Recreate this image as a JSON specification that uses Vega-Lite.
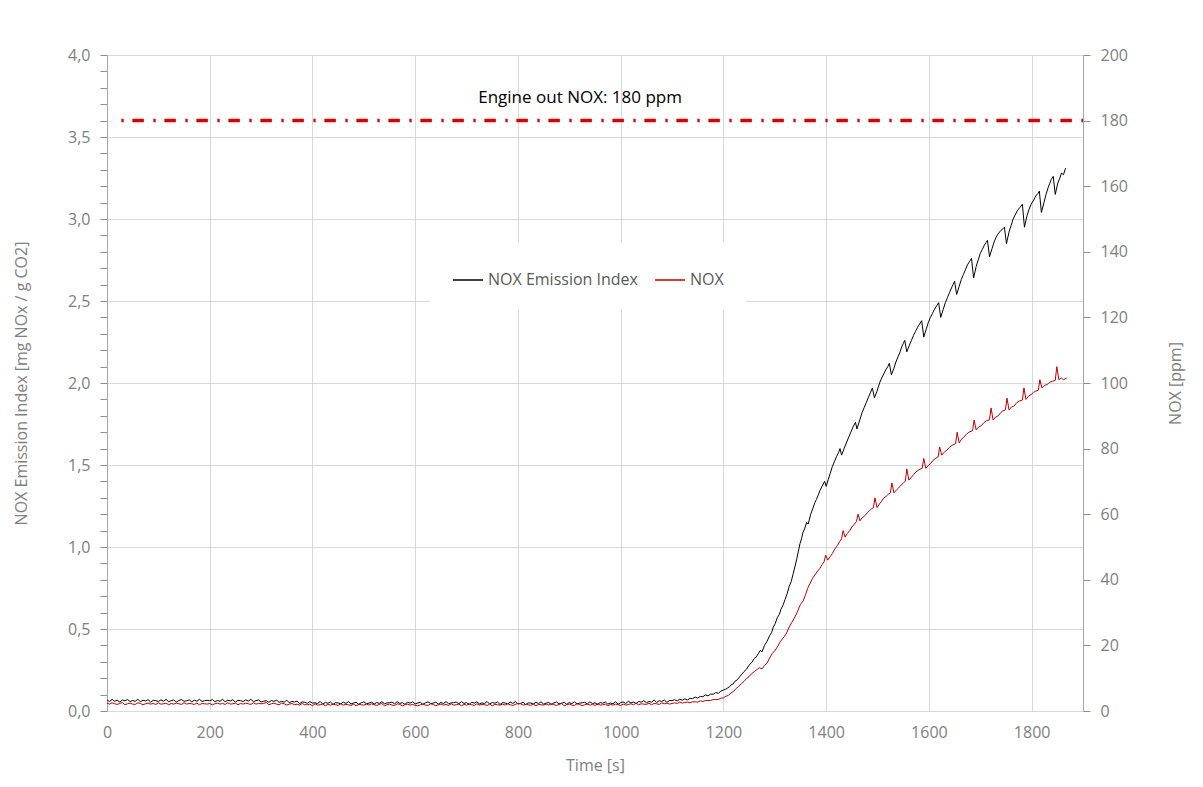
{
"$schema": "https://vega.github.io/schema/vega-lite/v6.json",
"width": 976, "height": 656,
"autosize": {"type": "none"},
"padding": {"left": 107, "top": 55, "right": 120, "bottom": 76},
"background": "white",
"config": {
 "font": "Open Sans",
 "view": {"stroke": null},
 "axis": {"labelFont": "Open Sans", "labelFontSize": 16, "labelColor": "#808080", "titleFont": "Open Sans", "titleFontSize": 16, "titleFontWeight": "normal", "titleColor": "#808080", "domainColor": "#a6a6a6", "tickColor": "#8c8c8c", "tickWidth": 1, "gridColor": "#d9d9d9", "labelOverlap": false, "labelFlush": false, "labelBound": false}
},
"datasets": {
 "ei": [
{"t":0,"ei":0.068},{"t":5,"ei":0.058},{"t":10,"ei":0.071},{"t":15,"ei":0.060},{"t":20,"ei":0.065},{"t":25,"ei":0.055},{"t":30,"ei":0.067},{"t":35,"ei":0.062},{"t":40,"ei":0.070},{"t":45,"ei":0.057},{"t":50,"ei":0.064},{"t":55,"ei":0.059},{"t":60,"ei":0.072},{"t":65,"ei":0.056},{"t":70,"ei":0.066},{"t":75,"ei":0.061},{"t":80,"ei":0.069},{"t":85,"ei":0.054},{"t":90,"ei":0.065},{"t":95,"ei":0.063},
{"t":100,"ei":0.058},{"t":105,"ei":0.068},{"t":110,"ei":0.060},{"t":115,"ei":0.071},{"t":120,"ei":0.057},{"t":125,"ei":0.063},{"t":130,"ei":0.067},{"t":135,"ei":0.055},{"t":140,"ei":0.064},{"t":145,"ei":0.070},{"t":150,"ei":0.059},{"t":155,"ei":0.062},{"t":160,"ei":0.068},{"t":165,"ei":0.056},{"t":170,"ei":0.066},{"t":175,"ei":0.060},{"t":180,"ei":0.071},{"t":185,"ei":0.058},{"t":190,"ei":0.063},{"t":195,"ei":0.065},
{"t":200,"ei":0.062},{"t":205,"ei":0.070},{"t":210,"ei":0.057},{"t":215,"ei":0.064},{"t":220,"ei":0.059},{"t":225,"ei":0.072},{"t":230,"ei":0.056},{"t":235,"ei":0.066},{"t":240,"ei":0.061},{"t":245,"ei":0.069},{"t":250,"ei":0.054},{"t":255,"ei":0.065},{"t":260,"ei":0.063},{"t":265,"ei":0.058},{"t":270,"ei":0.068},{"t":275,"ei":0.060},{"t":280,"ei":0.071},{"t":285,"ei":0.057},{"t":290,"ei":0.063},{"t":295,"ei":0.067},
{"t":300,"ei":0.055},{"t":305,"ei":0.059},{"t":310,"ei":0.063},{"t":315,"ei":0.053},{"t":320,"ei":0.064},{"t":325,"ei":0.059},{"t":330,"ei":0.066},{"t":335,"ei":0.053},{"t":340,"ei":0.059},{"t":345,"ei":0.054},{"t":350,"ei":0.066},{"t":355,"ei":0.050},{"t":360,"ei":0.059},{"t":365,"ei":0.054},{"t":370,"ei":0.061},{"t":375,"ei":0.045},{"t":380,"ei":0.056},{"t":385,"ei":0.053},{"t":390,"ei":0.047},{"t":395,"ei":0.057},
{"t":400,"ei":0.048},{"t":405,"ei":0.050},{"t":410,"ei":0.045},{"t":415,"ei":0.058},{"t":420,"ei":0.042},{"t":425,"ei":0.052},{"t":430,"ei":0.047},{"t":435,"ei":0.055},{"t":440,"ei":0.040},{"t":445,"ei":0.051},{"t":450,"ei":0.049},{"t":455,"ei":0.044},{"t":460,"ei":0.054},{"t":465,"ei":0.046},{"t":470,"ei":0.057},{"t":475,"ei":0.043},{"t":480,"ei":0.049},{"t":485,"ei":0.053},{"t":490,"ei":0.041},{"t":495,"ei":0.050},
{"t":500,"ei":0.056},{"t":505,"ei":0.045},{"t":510,"ei":0.048},{"t":515,"ei":0.054},{"t":520,"ei":0.042},{"t":525,"ei":0.052},{"t":530,"ei":0.046},{"t":535,"ei":0.057},{"t":540,"ei":0.044},{"t":545,"ei":0.049},{"t":550,"ei":0.051},{"t":555,"ei":0.054},{"t":560,"ei":0.044},{"t":565,"ei":0.057},{"t":570,"ei":0.046},{"t":575,"ei":0.051},{"t":580,"ei":0.041},{"t":585,"ei":0.053},{"t":590,"ei":0.048},{"t":595,"ei":0.056},
{"t":600,"ei":0.043},{"t":605,"ei":0.049},{"t":610,"ei":0.053},{"t":615,"ei":0.041},{"t":620,"ei":0.050},{"t":625,"ei":0.056},{"t":630,"ei":0.045},{"t":635,"ei":0.048},{"t":640,"ei":0.054},{"t":645,"ei":0.042},{"t":650,"ei":0.052},{"t":655,"ei":0.046},{"t":660,"ei":0.057},{"t":665,"ei":0.044},{"t":670,"ei":0.049},{"t":675,"ei":0.051},{"t":680,"ei":0.054},{"t":685,"ei":0.044},{"t":690,"ei":0.057},{"t":695,"ei":0.046},
{"t":700,"ei":0.051},{"t":705,"ei":0.041},{"t":710,"ei":0.053},{"t":715,"ei":0.048},{"t":720,"ei":0.056},{"t":725,"ei":0.043},{"t":730,"ei":0.050},{"t":735,"ei":0.045},{"t":740,"ei":0.058},{"t":745,"ei":0.042},{"t":750,"ei":0.052},{"t":755,"ei":0.047},{"t":760,"ei":0.055},{"t":765,"ei":0.040},{"t":770,"ei":0.051},{"t":775,"ei":0.049},{"t":780,"ei":0.044},{"t":785,"ei":0.054},{"t":790,"ei":0.046},{"t":795,"ei":0.057},
{"t":800,"ei":0.043},{"t":805,"ei":0.046},{"t":810,"ei":0.054},{"t":815,"ei":0.039},{"t":820,"ei":0.050},{"t":825,"ei":0.048},{"t":830,"ei":0.043},{"t":835,"ei":0.053},{"t":840,"ei":0.045},{"t":845,"ei":0.056},{"t":850,"ei":0.042},{"t":855,"ei":0.048},{"t":860,"ei":0.052},{"t":865,"ei":0.040},{"t":870,"ei":0.049},{"t":875,"ei":0.055},{"t":880,"ei":0.044},{"t":885,"ei":0.047},{"t":890,"ei":0.053},{"t":895,"ei":0.041},
{"t":900,"ei":0.051},{"t":905,"ei":0.045},{"t":910,"ei":0.056},{"t":915,"ei":0.043},{"t":920,"ei":0.048},{"t":925,"ei":0.050},{"t":930,"ei":0.053},{"t":935,"ei":0.043},{"t":940,"ei":0.056},{"t":945,"ei":0.045},{"t":950,"ei":0.050},{"t":955,"ei":0.040},{"t":960,"ei":0.052},{"t":965,"ei":0.047},{"t":970,"ei":0.055},{"t":975,"ei":0.042},{"t":980,"ei":0.049},{"t":985,"ei":0.044},{"t":990,"ei":0.057},{"t":995,"ei":0.041},
{"t":1000,"ei":0.051},{"t":1005,"ei":0.055},{"t":1010,"ei":0.046},{"t":1015,"ei":0.059},{"t":1020,"ei":0.049},{"t":1025,"ei":0.055},{"t":1030,"ei":0.046},{"t":1035,"ei":0.058},{"t":1040,"ei":0.054},{"t":1045,"ei":0.063},{"t":1050,"ei":0.050},{"t":1055,"ei":0.058},{"t":1060,"ei":0.054},{"t":1065,"ei":0.067},{"t":1070,"ei":0.052},{"t":1075,"ei":0.063},{"t":1080,"ei":0.058},{"t":1085,"ei":0.067},{"t":1090,"ei":0.053},{"t":1095,"ei":0.064},
{"t":1100,"ei":0.063},{"t":1105,"ei":0.069},{"t":1110,"ei":0.061},{"t":1115,"ei":0.072},{"t":1120,"ei":0.066},{"t":1125,"ei":0.074},{"t":1130,"ei":0.067},{"t":1135,"ei":0.077},{"t":1140,"ei":0.076},{"t":1145,"ei":0.085},{"t":1150,"ei":0.079},{"t":1155,"ei":0.089},{"t":1160,"ei":0.087},{"t":1165,"ei":0.098},{"t":1170,"ei":0.092},{"t":1175,"ei":0.103},{"t":1180,"ei":0.102},{"t":1185,"ei":0.112},{"t":1190,"ei":0.108},{"t":1195,"ei":0.121},
{"t":1200,"ei":0.128},{"t":1204,"ei":0.132},{"t":1208,"ei":0.14},{"t":1212,"ei":0.148},{"t":1215,"ei":0.16},{"t":1219,"ei":0.165},{"t":1222,"ei":0.18},{"t":1227,"ei":0.19},{"t":1232,"ei":0.21},{"t":1236,"ei":0.225},{"t":1240,"ei":0.24},{"t":1245,"ei":0.255},{"t":1250,"ei":0.28},{"t":1255,"ei":0.295},{"t":1260,"ei":0.32},{"t":1264,"ei":0.33},{"t":1268,"ei":0.35},{"t":1272,"ei":0.37},{"t":1275,"ei":0.36},{"t":1280,"ei":0.40},
{"t":1285,"ei":0.425},{"t":1290,"ei":0.46},{"t":1294,"ei":0.48},{"t":1297,"ei":0.51},{"t":1301,"ei":0.535},{"t":1305,"ei":0.57},{"t":1309,"ei":0.59},{"t":1312,"ei":0.62},{"t":1316,"ei":0.645},{"t":1320,"ei":0.68},{"t":1324,"ei":0.715},{"t":1328,"ei":0.76},{"t":1332,"ei":0.79},{"t":1336,"ei":0.84},{"t":1340,"ei":0.89},{"t":1343,"ei":0.93},{"t":1346,"ei":0.975},{"t":1349,"ei":1.02},{"t":1352,"ei":1.05},{"t":1355,"ei":1.09},
{"t":1358,"ei":1.11},{"t":1362,"ei":1.15},{"t":1365,"ei":1.14},{"t":1370,"ei":1.20},{"t":1374,"ei":1.235},{"t":1378,"ei":1.27},{"t":1381,"ei":1.29},{"t":1385,"ei":1.32},{"t":1388,"ei":1.345},{"t":1392,"ei":1.37},{"t":1397,"ei":1.40},{"t":1400,"ei":1.37},{"t":1404,"ei":1.41},{"t":1408,"ei":1.45},{"t":1412,"ei":1.49},{"t":1416,"ei":1.52},{"t":1420,"ei":1.55},{"t":1424,"ei":1.575},{"t":1427,"ei":1.60},{"t":1430,"ei":1.56},
{"t":1435,"ei":1.60},{"t":1440,"ei":1.64},{"t":1444,"ei":1.67},{"t":1448,"ei":1.70},{"t":1452,"ei":1.73},{"t":1457,"ei":1.76},{"t":1460,"ei":1.72},{"t":1466,"ei":1.78},{"t":1470,"ei":1.82},{"t":1474,"ei":1.85},{"t":1478,"ei":1.88},{"t":1482,"ei":1.91},{"t":1486,"ei":1.94},{"t":1490,"ei":1.97},{"t":1494,"ei":1.91},{"t":1499,"ei":1.95},{"t":1504,"ei":2.0},{"t":1508,"ei":2.03},{"t":1512,"ei":2.055},{"t":1516,"ei":2.08},
{"t":1520,"ei":2.10},{"t":1523,"ei":2.12},{"t":1527,"ei":2.05},{"t":1532,"ei":2.09},{"t":1536,"ei":2.13},{"t":1540,"ei":2.16},{"t":1544,"ei":2.19},{"t":1547,"ei":2.22},{"t":1550,"ei":2.24},{"t":1553,"ei":2.26},{"t":1557,"ei":2.19},{"t":1562,"ei":2.23},{"t":1566,"ei":2.26},{"t":1570,"ei":2.29},{"t":1574,"ei":2.315},{"t":1578,"ei":2.34},{"t":1582,"ei":2.36},{"t":1586,"ei":2.38},{"t":1590,"ei":2.28},{"t":1595,"ei":2.33},
{"t":1599,"ei":2.37},{"t":1603,"ei":2.40},{"t":1607,"ei":2.425},{"t":1611,"ei":2.45},{"t":1615,"ei":2.47},{"t":1619,"ei":2.49},{"t":1623,"ei":2.40},{"t":1628,"ei":2.45},{"t":1632,"ei":2.49},{"t":1636,"ei":2.52},{"t":1640,"ei":2.55},{"t":1644,"ei":2.58},{"t":1647,"ei":2.60},{"t":1650,"ei":2.62},{"t":1654,"ei":2.54},{"t":1659,"ei":2.59},{"t":1663,"ei":2.63},{"t":1667,"ei":2.66},{"t":1671,"ei":2.69},{"t":1675,"ei":2.72},
{"t":1679,"ei":2.74},{"t":1683,"ei":2.76},{"t":1687,"ei":2.64},{"t":1692,"ei":2.71},{"t":1696,"ei":2.75},{"t":1700,"ei":2.79},{"t":1704,"ei":2.815},{"t":1708,"ei":2.84},{"t":1711,"ei":2.855},{"t":1714,"ei":2.87},{"t":1718,"ei":2.77},{"t":1723,"ei":2.82},{"t":1727,"ei":2.86},{"t":1731,"ei":2.89},{"t":1735,"ei":2.91},{"t":1740,"ei":2.93},{"t":1744,"ei":2.94},{"t":1747,"ei":2.95},{"t":1751,"ei":2.85},{"t":1756,"ei":2.92},
{"t":1760,"ei":2.96},{"t":1764,"ei":3.00},{"t":1768,"ei":3.025},{"t":1772,"ei":3.05},{"t":1777,"ei":3.07},{"t":1782,"ei":3.09},{"t":1786,"ei":2.95},{"t":1791,"ei":3.02},{"t":1795,"ei":3.06},{"t":1799,"ei":3.09},{"t":1804,"ei":3.115},{"t":1808,"ei":3.14},{"t":1812,"ei":3.155},{"t":1815,"ei":3.17},{"t":1819,"ei":3.04},{"t":1824,"ei":3.10},{"t":1828,"ei":3.15},{"t":1832,"ei":3.19},{"t":1835,"ei":3.215},{"t":1838,"ei":3.24},
{"t":1842,"ei":3.26},{"t":1846,"ei":3.15},{"t":1851,"ei":3.22},{"t":1855,"ei":3.25},{"t":1858,"ei":3.28},{"t":1862,"ei":3.27},{"t":1866,"ei":3.31}
 ],
 "nox": [
{"t":0,"nox":2.4},{"t":5,"nox":2.1},{"t":10,"nox":2.5},{"t":15,"nox":2.2},{"t":20,"nox":2.0},{"t":25,"nox":2.3},{"t":30,"nox":2.6},{"t":35,"nox":1.9},{"t":40,"nox":2.2},{"t":45,"nox":2.4},{"t":50,"nox":2.1},{"t":55,"nox":2.0},{"t":60,"nox":2.5},{"t":65,"nox":2.3},{"t":70,"nox":1.9},{"t":75,"nox":2.2},{"t":80,"nox":2.4},{"t":85,"nox":2.1},{"t":90,"nox":2.3},{"t":95,"nox":2.0},
{"t":100,"nox":2.5},{"t":105,"nox":2.1},{"t":110,"nox":2.2},{"t":115,"nox":2.4},{"t":120,"nox":1.9},{"t":125,"nox":2.3},{"t":130,"nox":2.1},{"t":135,"nox":2.4},{"t":140,"nox":2.2},{"t":145,"nox":2.0},{"t":150,"nox":2.5},{"t":155,"nox":2.1},{"t":160,"nox":2.3},{"t":165,"nox":2.2},{"t":170,"nox":2.0},{"t":175,"nox":2.4},{"t":180,"nox":1.9},{"t":185,"nox":2.3},{"t":190,"nox":2.2},{"t":195,"nox":2.1},
{"t":200,"nox":2.3},{"t":205,"nox":1.9},{"t":210,"nox":2.2},{"t":215,"nox":2.4},{"t":220,"nox":2.1},{"t":225,"nox":2.3},{"t":230,"nox":2.0},{"t":235,"nox":2.5},{"t":240,"nox":2.1},{"t":245,"nox":2.2},{"t":250,"nox":2.4},{"t":255,"nox":1.9},{"t":260,"nox":2.3},{"t":265,"nox":2.1},{"t":270,"nox":2.4},{"t":275,"nox":2.2},{"t":280,"nox":2.0},{"t":285,"nox":2.5},{"t":290,"nox":2.1},{"t":295,"nox":2.3},
{"t":300,"nox":2.2},{"t":305,"nox":2.3},{"t":310,"nox":2.6},{"t":315,"nox":1.9},{"t":320,"nox":2.2},{"t":325,"nox":2.4},{"t":330,"nox":2.1},{"t":335,"nox":1.9},{"t":340,"nox":2.4},{"t":345,"nox":2.2},{"t":350,"nox":1.8},{"t":355,"nox":2.1},{"t":360,"nox":2.3},{"t":365,"nox":1.9},{"t":370,"nox":2.1},{"t":375,"nox":1.8},{"t":380,"nox":2.3},{"t":385,"nox":1.9},{"t":390,"nox":1.9},{"t":395,"nox":2.1},
{"t":400,"nox":1.6},{"t":405,"nox":2.2},{"t":410,"nox":1.8},{"t":415,"nox":1.9},{"t":420,"nox":2.1},{"t":425,"nox":1.6},{"t":430,"nox":2.0},{"t":435,"nox":1.8},{"t":440,"nox":2.1},{"t":445,"nox":1.9},{"t":450,"nox":1.7},{"t":455,"nox":2.2},{"t":460,"nox":1.8},{"t":465,"nox":2.0},{"t":470,"nox":1.9},{"t":475,"nox":1.7},{"t":480,"nox":2.1},{"t":485,"nox":1.6},{"t":490,"nox":2.0},{"t":495,"nox":1.9},
{"t":500,"nox":1.8},{"t":505,"nox":2.1},{"t":510,"nox":1.8},{"t":515,"nox":2.2},{"t":520,"nox":1.9},{"t":525,"nox":1.7},{"t":530,"nox":2.0},{"t":535,"nox":2.3},{"t":540,"nox":1.6},{"t":545,"nox":1.9},{"t":550,"nox":2.1},{"t":555,"nox":1.8},{"t":560,"nox":1.7},{"t":565,"nox":2.2},{"t":570,"nox":2.0},{"t":575,"nox":1.6},{"t":580,"nox":1.9},{"t":585,"nox":2.1},{"t":590,"nox":1.8},{"t":595,"nox":2.0},
{"t":600,"nox":1.7},{"t":605,"nox":1.6},{"t":610,"nox":1.9},{"t":615,"nox":2.1},{"t":620,"nox":1.8},{"t":625,"nox":1.7},{"t":630,"nox":2.2},{"t":635,"nox":2.0},{"t":640,"nox":1.6},{"t":645,"nox":1.9},{"t":650,"nox":2.1},{"t":655,"nox":1.8},{"t":660,"nox":2.0},{"t":665,"nox":1.7},{"t":670,"nox":2.2},{"t":675,"nox":1.8},{"t":680,"nox":1.9},{"t":685,"nox":2.1},{"t":690,"nox":1.6},{"t":695,"nox":2.0},
{"t":700,"nox":1.8},{"t":705,"nox":2.1},{"t":710,"nox":1.9},{"t":715,"nox":1.7},{"t":720,"nox":2.2},{"t":725,"nox":1.8},{"t":730,"nox":2.0},{"t":735,"nox":1.9},{"t":740,"nox":1.7},{"t":745,"nox":2.1},{"t":750,"nox":1.6},{"t":755,"nox":2.0},{"t":760,"nox":1.9},{"t":765,"nox":1.8},{"t":770,"nox":2.1},{"t":775,"nox":1.8},{"t":780,"nox":2.2},{"t":785,"nox":1.9},{"t":790,"nox":1.7},{"t":795,"nox":2.0},
{"t":800,"nox":2.3},{"t":805,"nox":2.2},{"t":810,"nox":1.8},{"t":815,"nox":2.0},{"t":820,"nox":1.9},{"t":825,"nox":1.7},{"t":830,"nox":2.1},{"t":835,"nox":1.6},{"t":840,"nox":2.0},{"t":845,"nox":1.9},{"t":850,"nox":1.8},{"t":855,"nox":2.1},{"t":860,"nox":1.8},{"t":865,"nox":2.2},{"t":870,"nox":1.9},{"t":875,"nox":1.7},{"t":880,"nox":2.0},{"t":885,"nox":2.3},{"t":890,"nox":1.6},{"t":895,"nox":1.9},
{"t":900,"nox":2.1},{"t":905,"nox":1.8},{"t":910,"nox":1.7},{"t":915,"nox":2.2},{"t":920,"nox":2.0},{"t":925,"nox":1.6},{"t":930,"nox":1.9},{"t":935,"nox":2.1},{"t":940,"nox":1.8},{"t":945,"nox":2.0},{"t":950,"nox":1.7},{"t":955,"nox":2.2},{"t":960,"nox":1.8},{"t":965,"nox":1.9},{"t":970,"nox":2.1},{"t":975,"nox":1.6},{"t":980,"nox":2.0},{"t":985,"nox":1.8},{"t":990,"nox":2.1},{"t":995,"nox":1.9},
{"t":1000,"nox":1.7},{"t":1005,"nox":2.1},{"t":1010,"nox":1.8},{"t":1015,"nox":2.0},{"t":1020,"nox":2.2},{"t":1025,"nox":1.9},{"t":1030,"nox":2.4},{"t":1035,"nox":1.9},{"t":1040,"nox":2.2},{"t":1045,"nox":2.1},{"t":1050,"nox":2.0},{"t":1055,"nox":2.4},{"t":1060,"nox":1.9},{"t":1065,"nox":2.3},{"t":1070,"nox":2.2},{"t":1075,"nox":2.0},{"t":1080,"nox":2.5},{"t":1085,"nox":2.2},{"t":1090,"nox":2.4},{"t":1095,"nox":2.1},
{"t":1100,"nox":2.3},{"t":1105,"nox":2.5},{"t":1110,"nox":2.3},{"t":1115,"nox":2.7},{"t":1120,"nox":2.4},{"t":1125,"nox":2.6},{"t":1130,"nox":2.7},{"t":1135,"nox":2.5},{"t":1140,"nox":2.8},{"t":1145,"nox":2.8},{"t":1150,"nox":2.7},{"t":1155,"nox":3.1},{"t":1160,"nox":2.9},{"t":1165,"nox":3.2},{"t":1170,"nox":3.2},{"t":1175,"nox":3.2},{"t":1180,"nox":3.5},{"t":1185,"nox":3.5},{"t":1190,"nox":3.5},{"t":1195,"nox":3.9},
{"t":1200,"nox":4.0},{"t":1205,"nox":4.5},{"t":1210,"nox":4.8},{"t":1215,"nox":5.5},{"t":1220,"nox":6.0},{"t":1225,"nox":6.9},{"t":1230,"nox":7.5},{"t":1235,"nox":8.4},{"t":1240,"nox":9.0},{"t":1245,"nox":9.9},{"t":1250,"nox":10.5},{"t":1255,"nox":11.4},{"t":1260,"nox":12.0},{"t":1265,"nox":12.6},{"t":1270,"nox":13.2},{"t":1275,"nox":12.8},{"t":1280,"nox":13.9},{"t":1285,"nox":14.6},{"t":1290,"nox":16.2},{"t":1295,"nox":17.5},
{"t":1300,"nox":18.4},{"t":1305,"nox":19.5},{"t":1310,"nox":21.0},{"t":1315,"nox":22.0},{"t":1319,"nox":22.8},{"t":1323,"nox":23.8},{"t":1328,"nox":25.6},{"t":1333,"nox":27.0},{"t":1338,"nox":28.3},{"t":1343,"nox":29.9},{"t":1347,"nox":31.4},{"t":1350,"nox":32.5},{"t":1355,"nox":33.5},{"t":1360,"nox":35.5},{"t":1364,"nox":37.4},{"t":1369,"nox":39.0},{"t":1373,"nox":40.3},{"t":1378,"nox":41.5},{"t":1383,"nox":42.6},{"t":1388,"nox":43.5},
{"t":1392,"nox":44.6},{"t":1396,"nox":45.5},{"t":1399,"nox":47.5},{"t":1403,"nox":46.0},{"t":1408,"nox":47.1},{"t":1412,"nox":48.0},{"t":1417,"nox":49.4},{"t":1422,"nox":50.5},{"t":1426,"nox":51.6},{"t":1430,"nox":52.5},{"t":1433,"nox":55.0},{"t":1437,"nox":53.0},{"t":1441,"nox":54.1},{"t":1446,"nox":55.0},{"t":1450,"nox":56.1},{"t":1455,"nox":57.0},{"t":1459,"nox":57.8},{"t":1462,"nox":60.0},{"t":1466,"nox":58.0},{"t":1470,"nox":58.9},
{"t":1475,"nox":59.5},{"t":1480,"nox":60.4},{"t":1484,"nox":61.0},{"t":1488,"nox":61.6},{"t":1492,"nox":62.0},{"t":1495,"nox":65.0},{"t":1499,"nox":62.0},{"t":1504,"nox":63.2},{"t":1508,"nox":64.0},{"t":1512,"nox":64.9},{"t":1517,"nox":65.5},{"t":1521,"nox":66.1},{"t":1525,"nox":66.5},{"t":1528,"nox":69.5},{"t":1532,"nox":66.5},{"t":1537,"nox":67.4},{"t":1541,"nox":68.0},{"t":1546,"nox":68.9},{"t":1550,"nox":69.5},{"t":1554,"nox":70.0},
{"t":1557,"nox":73.8},{"t":1561,"nox":70.4},{"t":1566,"nox":71.3},{"t":1570,"nox":72.0},{"t":1575,"nox":72.9},{"t":1580,"nox":73.5},{"t":1587,"nox":74.0},{"t":1590,"nox":77.0},{"t":1594,"nox":74.0},{"t":1599,"nox":74.9},{"t":1604,"nox":75.5},{"t":1608,"nox":76.4},{"t":1613,"nox":77.0},{"t":1618,"nox":77.5},{"t":1621,"nox":80.5},{"t":1625,"nox":78.0},{"t":1630,"nox":78.9},{"t":1635,"nox":79.5},{"t":1640,"nox":80.4},{"t":1645,"nox":81.0},
{"t":1652,"nox":81.5},{"t":1655,"nox":85.0},{"t":1659,"nox":81.7},{"t":1663,"nox":82.8},{"t":1668,"nox":83.5},{"t":1673,"nox":84.4},{"t":1678,"nox":85.0},{"t":1685,"nox":85.5},{"t":1688,"nox":88.7},{"t":1692,"nox":85.7},{"t":1697,"nox":86.6},{"t":1702,"nox":87.0},{"t":1707,"nox":87.9},{"t":1712,"nox":88.5},{"t":1718,"nox":88.8},{"t":1721,"nox":92.4},{"t":1725,"nox":88.7},{"t":1730,"nox":89.6},{"t":1735,"nox":90.0},{"t":1740,"nox":91.0},
{"t":1744,"nox":91.5},{"t":1749,"nox":91.8},{"t":1752,"nox":95.4},{"t":1756,"nox":91.8},{"t":1761,"nox":92.7},{"t":1766,"nox":93.0},{"t":1771,"nox":94.0},{"t":1776,"nox":94.5},{"t":1782,"nox":94.8},{"t":1785,"nox":98.5},{"t":1789,"nox":95.0},{"t":1794,"nox":96.0},{"t":1799,"nox":96.5},{"t":1804,"nox":97.2},{"t":1808,"nox":97.5},{"t":1813,"nox":97.8},{"t":1816,"nox":101.0},{"t":1820,"nox":98.5},{"t":1825,"nox":99.3},{"t":1830,"nox":99.5},
{"t":1835,"nox":100.2},{"t":1840,"nox":100.5},{"t":1846,"nox":100.8},{"t":1849,"nox":105.0},{"t":1853,"nox":101.0},{"t":1858,"nox":101.5},{"t":1862,"nox":101.0},{"t":1868,"nox":101.5}
 ],
 "ref": [{"t0": 28, "t1": 1900, "nox": 180, "tx": 921, "ty": 187, "label": "Engine out NOX: 180 ppm"}]
},
"layer": [
 {
  "data": {"name": "ei"},
  "mark": {"type": "line", "strokeWidth": 1, "color": "#000000"},
  "encoding": {
   "x": {"field": "t", "type": "quantitative", "title": "Time [s]", "scale": {"domain": [0, 1900], "nice": false, "zero": false},
     "axis": {"values": [0,200,400,600,800,1000,1200,1400,1600,1800], "format": "d", "ticks": false, "grid": true, "domainColor": "#d9d9d9", "labelPadding": 13, "titlePadding": 17}},
   "y": {"field": "ei", "type": "quantitative", "title": "NOX Emission Index [mg NOx / g CO2]", "scale": {"domain": [0, 4], "nice": false},
     "axis": {"orient": "left", "values": [0,0.1,0.2,0.3,0.4,0.5,0.6,0.7,0.8,0.9,1.0,1.1,1.2,1.3,1.4,1.5,1.6,1.7,1.8,1.9,2.0,2.1,2.2,2.3,2.4,2.5,2.6,2.7,2.8,2.9,3.0,3.1,3.2,3.3,3.4,3.5,3.6,3.7,3.8,3.9,4.0],
       "labelExpr": "abs(datum.value*2-round(datum.value*2))<0.001 ? replace(format(datum.value,'.1f'),'.',',') : ''",
       "ticks": true, "tickSize": 7,
       "grid": true,
       "gridOpacity": {"condition": {"test": "abs(datum.value*2-round(datum.value*2))<0.001", "value": 1}, "value": 0},
       "labelPadding": 10, "titlePadding": 38}},
   "color": {"datum": "NOX Emission Index", "type": "nominal",
     "scale": {"domain": ["NOX Emission Index", "NOX"], "range": ["#000000", "#c00000"]},
     "legend": {"orient": "none", "legendX": 323, "legendY": 187, "direction": "horizontal", "title": null, "fillColor": "white", "padding": 22, "symbolType": "stroke", "symbolSize": 900, "symbolStrokeWidth": 1.5, "labelFontSize": 16, "labelColor": "#595959", "labelFont": "Open Sans", "columnPadding": 14, "labelOffset": 4}}
  }
 },
 {
  "layer": [
   {
    "data": {"name": "nox"},
    "mark": {"type": "line", "strokeWidth": 1},
    "encoding": {
     "x": {"field": "t", "type": "quantitative", "title": "Time [s]"},
     "y": {"field": "nox", "type": "quantitative", "title": "NOX [ppm]", "scale": {"domain": [0, 200], "nice": false},
       "axis": {"orient": "right", "values": [0,5,10,15,20,25,30,35,40,45,50,55,60,65,70,75,80,85,90,95,100,105,110,115,120,125,130,135,140,145,150,155,160,165,170,175,180,185,190,195,200],
         "labelExpr": "datum.value % 20 == 0 ? format(datum.value,'d') : ''",
         "ticks": true, "tickSize": 7,
         "grid": false, "labelPadding": 10, "titlePadding": 56, "titleAngle": 270}},
     "color": {"datum": "NOX", "type": "nominal"}
    }
   },
   {
    "data": {"name": "ref"},
    "mark": {"type": "rule", "color": "#d90000", "strokeWidth": 3.5, "strokeDash": [2.3, 8.7, 11.5, 9.5], "strokeCap": "butt"},
    "encoding": {
     "x": {"field": "t0", "type": "quantitative", "title": "Time [s]"},
     "x2": {"field": "t1"},
     "y": {"field": "nox", "type": "quantitative", "title": "NOX [ppm]", "scale": {"domain": [0, 200], "nice": false}}
    }
   },
   {
    "data": {"name": "ref"},
    "mark": {"type": "text", "font": "Open Sans", "fontSize": 17, "color": "#000000", "baseline": "middle", "align": "center"},
    "encoding": {
     "x": {"field": "tx", "type": "quantitative", "title": "Time [s]"},
     "y": {"field": "ty", "type": "quantitative", "title": "NOX [ppm]", "scale": {"domain": [0, 200], "nice": false}},
     "text": {"field": "label"}
    }
   }
  ]
 }
],
"resolve": {"scale": {"y": "independent"}}
}
